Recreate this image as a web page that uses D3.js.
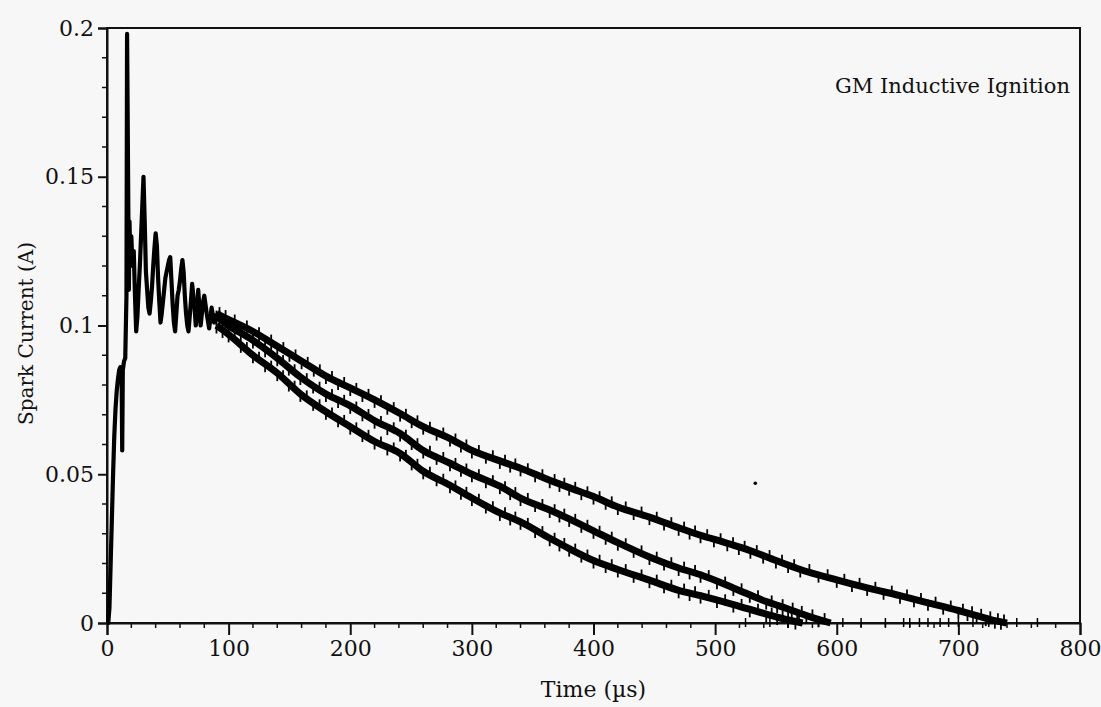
<!DOCTYPE html>
<html><head><meta charset="utf-8">
<script src="https://cdn.jsdelivr.net/npm/d3@7"></script>
<style>
html,body{margin:0;padding:0;background:#f7f7f7;}
svg{display:block;}
text{font-family:"DejaVu Serif","Liberation Serif",serif;fill:#111;}
</style></head>
<body>
<svg id="c" width="1101" height="707"></svg>
<script>
// Early transient (common to all shots), time in µs, current in A
const earlyTime = [0,1,2,3,4,5,6,7,8,9,10,11,12,12.5,13,14,15,16,16.5,17,17.5,18,18.5,19,20,21,22,23,24,25,26,27,28,29,30,31,32,33,34,35,36,37,38,39,40,41,42,43,44,45,46,47,48,49,50,51,52,53,54,55,56,57,58,59,60,61,62,63,64,65,66,67,68,69,70,71,72,73,74,75,76,77,78,79,80,82,84,86,88,90];
const earlyCurrent = [0,0,0.005,0.02,0.035,0.05,0.063,0.072,0.078,0.082,0.085,0.086,0.084,0.058,0.085,0.088,0.089,0.11,0.198,0.17,0.14,0.112,0.135,0.125,0.13,0.12,0.125,0.11,0.098,0.103,0.112,0.12,0.13,0.14,0.15,0.135,0.118,0.112,0.106,0.104,0.108,0.113,0.12,0.126,0.131,0.127,0.116,0.108,0.101,0.104,0.108,0.112,0.116,0.118,0.12,0.122,0.123,0.115,0.107,0.101,0.098,0.104,0.11,0.112,0.115,0.119,0.122,0.118,0.11,0.104,0.1,0.098,0.103,0.108,0.114,0.11,0.106,0.1,0.104,0.112,0.106,0.1,0.104,0.108,0.11,0.104,0.099,0.106,0.101,0.104];

// Decay traces (three shots)
const upperTime = [90,100,120,140,160,180,200,220,241,260,282,300,323,340,364,380,400,420,446,470,488,510,529,550,570,600,625,652,675,700,715,730,740];
const upperCurrent = [0.104,0.102,0.098,0.093,0.088,0.083,0.079,0.075,0.0704,0.066,0.062,0.058,0.0545,0.052,0.048,0.0455,0.0425,0.039,0.0356,0.032,0.0295,0.0268,0.0243,0.021,0.018,0.0145,0.0118,0.0092,0.0068,0.0042,0.0025,0.0008,0];
const middleTime = [90,100,120,140,159,180,200,220,241,260,282,300,323,340,364,380,400,420,446,470,488,515,542,560,575,595];
const middleCurrent = [0.103,0.1,0.095,0.089,0.0827,0.077,0.073,0.068,0.0637,0.058,0.0537,0.05,0.046,0.042,0.038,0.035,0.031,0.027,0.0222,0.0185,0.0162,0.0118,0.0072,0.0047,0.0025,0];
const lowerTime = [90,100,120,140,159,180,200,220,241,260,282,300,323,340,364,380,400,420,446,470,488,515,542,560,572];
const lowerCurrent = [0.1,0.097,0.09,0.084,0.077,0.071,0.066,0.061,0.057,0.051,0.0463,0.042,0.037,0.034,0.0285,0.025,0.021,0.018,0.0144,0.011,0.0092,0.0062,0.003,0.001,0];

// stray points / baseline noise
const strayTime = [533];
const strayCurrent = [0.047];
const baselineSpikeTime = [525,545,560,585,605,620,640,655,660,668,675,685,692,700,712,725,748,765];

const xTicks = [0,100,200,300,400,500,600,700,800];
const yTicks = [0,0.05,0.1,0.15,0.2];
const yTickLabels = ["0","0.05","0.1","0.15","0.2"];

const svg = d3.select("#c");
const x = d3.scaleLinear().domain([0,800]).range([107,1080]);
const y = d3.scaleLinear().domain([0,0.2]).range([623,28]);

// frame
svg.append("rect").attr("x",x(0)).attr("y",y(0.2)).attr("width",x(800)-x(0)).attr("height",y(0)-y(0.2))
  .attr("fill","none").attr("stroke","#111").attr("stroke-width",2);

// x axis
const xAxis = d3.axisBottom(x).tickValues(xTicks).tickSize(12).tickFormat(d3.format("d"));
const gx = svg.append("g").attr("transform",`translate(0,${y(0)})`).call(xAxis);
gx.attr("font-family",null).attr("font-size",null);
gx.select(".domain").attr("stroke","#111").attr("stroke-width",2);
gx.selectAll(".tick line").attr("stroke","#111").attr("stroke-width",2);
gx.selectAll(".tick text").attr("font-size",22).attr("y",13).attr("dy","0.9em").attr("fill","#111");
const xMinor = d3.range(0,801,20).filter(v=>v%100!==0);
svg.append("g").selectAll("line").data(xMinor).join("line")
  .attr("x1",d=>x(d)).attr("x2",d=>x(d)).attr("y1",y(0)).attr("y2",y(0)+5)
  .attr("stroke","#111").attr("stroke-width",1.5);

// y axis
const yAxis = d3.axisLeft(y).tickValues(yTicks).tickSize(9).tickFormat((d,i)=>yTickLabels[i]);
const gy = svg.append("g").attr("transform",`translate(${x(0)},0)`).call(yAxis);
gy.attr("font-family",null).attr("font-size",null);
gy.select(".domain").attr("stroke","#111").attr("stroke-width",2);
gy.selectAll(".tick line").attr("stroke","#111").attr("stroke-width",2);
gy.selectAll(".tick text").attr("font-size",22).attr("x",-13).attr("fill","#111");
const yMinor = d3.range(0,0.2001,0.01).filter((v,i)=>i%5!==0);
svg.append("g").selectAll("line").data(yMinor).join("line")
  .attr("x1",x(0)-5).attr("x2",x(0)).attr("y1",d=>y(d)).attr("y2",d=>y(d))
  .attr("stroke","#111").attr("stroke-width",1.5);

// labels
svg.append("text").attr("x",(x(0)+x(800))/2).attr("y",697).attr("text-anchor","middle").attr("font-size",22).text("Time (µs)");
svg.append("text").attr("transform",`translate(33,${(y(0)+y(0.2))/2+8}) rotate(-90)`).attr("text-anchor","middle").attr("font-size",20).text("Spark Current (A)");
svg.append("text").attr("x",1070).attr("y",93).attr("text-anchor","end").attr("font-size",21).text("GM Inductive Ignition");

const line = d3.line().x(d=>x(d[0])).y(d=>y(d[1]));
const smooth = d3.line().x(d=>x(d[0])).y(d=>y(d[1])).curve(d3.curveMonotoneX);
const zip = (a,b)=>a.map((t,i)=>[t,b[i]]);

const early = zip(earlyTime, earlyCurrent);
svg.append("path").datum(early).attr("d",line).attr("fill","none").attr("stroke","#000").attr("stroke-width",4.2).attr("stroke-linejoin","round");

const traces = [zip(upperTime,upperCurrent), zip(middleTime,middleCurrent), zip(lowerTime,lowerCurrent)];
traces.forEach(tr=>{
  svg.append("path").datum(tr).attr("d",smooth).attr("fill","none").attr("stroke","#000").attr("stroke-width",7).attr("stroke-linejoin","round");
  // noise tick marks along each trace
  const pts = [];
  for(let i=0;i<tr.length-1;i++){
    for(let k=0;k<4;k++){
      const f=k/4;
      pts.push([tr[i][0]+(tr[i+1][0]-tr[i][0])*f, tr[i][1]+(tr[i+1][1]-tr[i][1])*f, k]);
    }
  }
  svg.append("g").selectAll("line").data(pts).join("line")
    .attr("x1",d=>x(d[0])).attr("x2",d=>x(d[0]))
    .attr("y1",d=>y(d[1])-(d[2]%2?8:3)).attr("y2",d=>y(d[1])+(d[2]%2?3:8))
    .attr("stroke","#000").attr("stroke-width",1.8);
});

svg.append("g").selectAll("circle").data(zip(strayTime,strayCurrent)).join("circle")
  .attr("cx",d=>x(d[0])).attr("cy",d=>y(d[1])).attr("r",1.8).attr("fill","#000");
svg.append("g").selectAll("line").data(baselineSpikeTime).join("line")
  .attr("x1",d=>x(d)).attr("x2",d=>x(d)).attr("y1",y(0)-5).attr("y2",y(0)+4)
  .attr("stroke","#000").attr("stroke-width",1.5);
</script>
</body></html>
